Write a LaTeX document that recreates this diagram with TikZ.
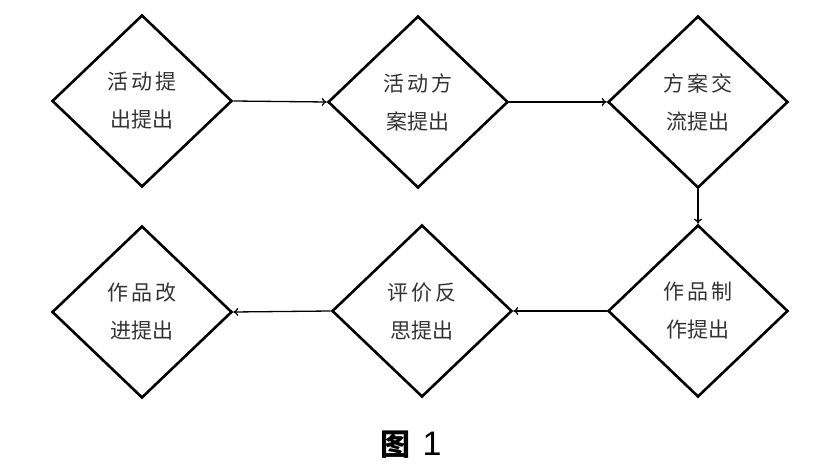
\documentclass[tikz,border=0pt]{standalone}
\usepackage{fontspec}
\setmainfont{Liberation Sans}
\newfontfamily\cjk{Noto Sans CJK SC}
\usetikzlibrary{shapes.geometric,arrows.meta}
\tikzset{
  stepbox/.style={diamond, draw=black, line width=2.6pt, minimum width=180pt, minimum height=172pt, inner sep=0pt,
    align=center, text=black!80, font=\cjk\fontsize{21pt}{38pt}\selectfont},
  flow/.style={line width=1.3pt, -{To[length=5pt,width=8pt]}}
}
\newcommand{\csp}{\hspace{3pt}}
\begin{document}
\begin{tikzpicture}[x=1pt,y=-1pt]
\useasboundingbox[fill=white] (0,0) rectangle (827,473);
\node[stepbox] (a) at (142,101) {活\csp 动\csp 提\\出提出};
\node[stepbox] (b) at (418,102) {活\csp 动\csp 方\\案提出};
\node[stepbox] (c) at (698,102) {方\csp 案\csp 交\\流提出};
\node[stepbox] (d) at (698,311) {作\csp 品\csp 制\\作提出};
\node[stepbox] (e) at (422,311) {评\csp 价\csp 反\\思提出};
\node[stepbox] (f) at (142,312) {作\csp 品\csp 改\\进提出};
\draw[flow] (a.east) -- (b.west);
\draw[flow] (b.east) -- (c.west);
\draw[flow] (c.south) -- (d.north);
\draw[flow] (d.west) -- (e.east);
\draw[flow] (e.west) -- (f.east);
\node (cap) at (411,445) {\cjk\bfseries\fontsize{30pt}{32pt}\selectfont 图\hspace{12pt}\rmfamily\mdseries\fontsize{34pt}{36pt}\selectfont 1};
\end{tikzpicture}
\end{document}
